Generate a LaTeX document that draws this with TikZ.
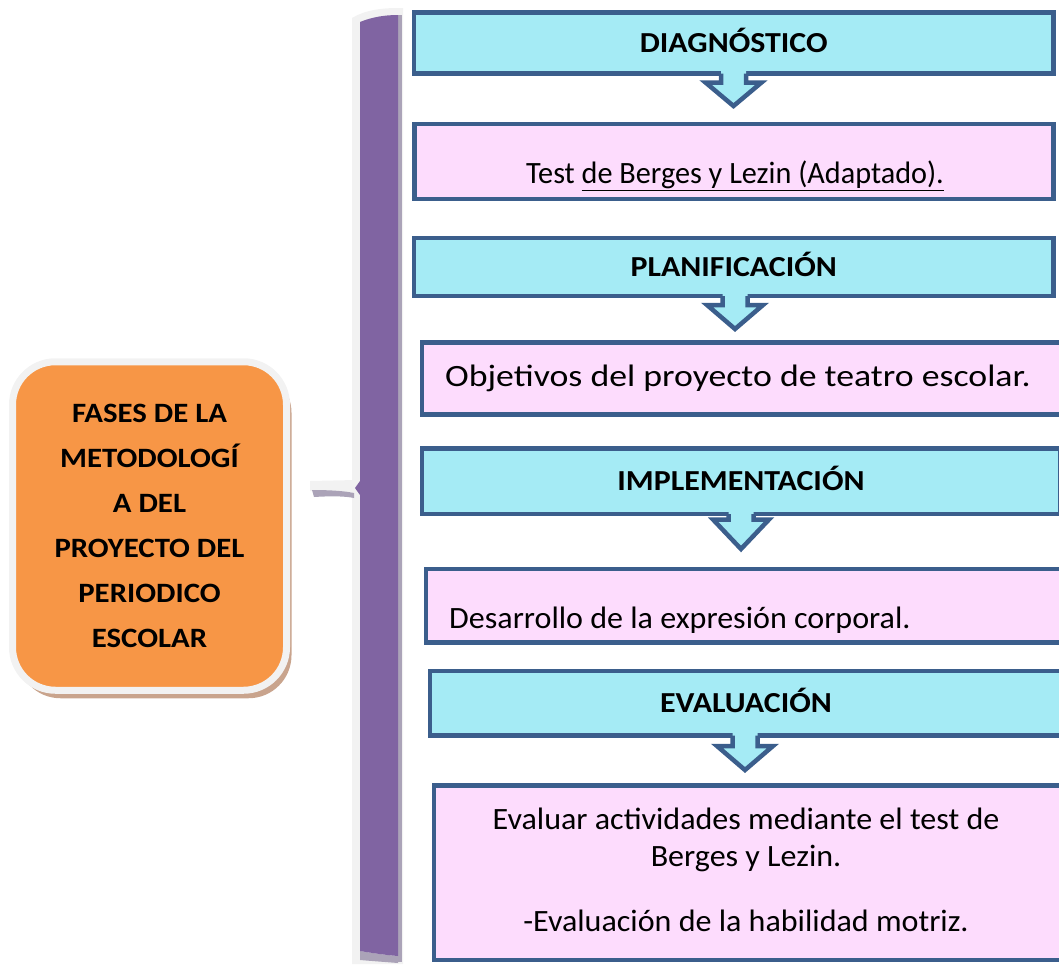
\documentclass[tikz,border=0pt]{standalone}
\usepackage{fontspec}
\setmainfont{Carlito}[FakeStretch=1.034, BoldFeatures={FakeStretch=1.1}]
\usetikzlibrary{calc,shadows}

\definecolor{boxline}{HTML}{3B5E8C}
\definecolor{headfill}{HTML}{A5EBF5}
\definecolor{textfill}{HTML}{FDDCFD}
\definecolor{bracefill}{HTML}{8064A2}
\definecolor{braceshadow}{HTML}{ABA3B8}
\definecolor{halogray}{HTML}{F2F2F2}
\definecolor{fasefill}{HTML}{F79646}
\definecolor{faseshadow}{HTML}{C9A48D}

% block arrow below a phase box: #1 upper box, #2 tip, #3 head height
\newcommand{\phasearrow}[3]{%
  \fill[headfill] ($(#2 |- #1.south)+(-12.5,-3)$) -- ($(#2)+(-12.5,-#3)$) -- ++(-15.5,0) -- (#2)
    -- ++(28,-#3) -- ++(-15.5,0) -- ($(#2 |- #1.south)+(12.5,-3)$) -- cycle;
  \draw[arrowline] ($(#2 |- #1.south)+(-12.5,0)$) -- ($(#2)+(-12.5,-#3)$) -- ++(-15.5,0) -- (#2)
    -- ++(28,-#3) -- ++(-15.5,0) -- ($(#2 |- #1.south)+(12.5,0)$);
}

\begin{document}
\begin{tikzpicture}[x=1pt,y=-1pt,
    headbox/.style={draw=boxline, line width=4.5pt, fill=headfill, anchor=north west,
      inner sep=0pt, outer sep=0pt, text height=19pt, text depth=0pt,
      font=\fontsize{29}{34}\selectfont\bfseries},
    textbox/.style={draw=boxline, line width=4.5pt, fill=textfill, anchor=north west,
      inner sep=0pt, outer sep=0pt},
    bodytext/.style={inner sep=0pt, font=\fontsize{31}{37}\selectfont},
    arrowline/.style={draw=boxline, line width=4.5pt, line join=miter},
    fasebox/.style={draw=halogray, line width=7pt, fill=fasefill, rounded corners=43pt,
      inner sep=0pt, outer sep=0pt, align=center,
      font=\fontsize{28}{45}\selectfont\bfseries\addfontfeatures{FakeStretch=1.21},
      drop shadow={shadow xshift=5pt, shadow yshift=-8pt, fill=faseshadow, opacity=1}}
  ]
  \clip (0,0) rectangle (1059,964);

  % brace
  \fill[halogray] (352,18) .. controls (365,10) and (382,8) .. (398,8) -- (403,8) -- (403,964)
    -- (352,964) -- cycle;
  \fill[halogray] (310,481) -- (356,480) -- (356,492) -- (310,491) -- cycle;
  \fill[braceshadow] (312,490) .. controls (330,490) and (345,491) .. (354,493) -- (354,498)
    .. controls (345,496) and (330,496) .. (314,497) -- cycle;
  \fill[braceshadow] (398,15) rectangle (402,962);
  \fill[braceshadow] (360,951) .. controls (372,953) and (385,955) .. (398,956) -- (398,963)
    .. controls (385,962) and (372,961) .. (360,960) -- cycle;
  \fill[bracefill] (360,22) .. controls (372,17) and (385,15) .. (398,15) -- (398,956)
    .. controls (385,955) and (372,953) .. (360,951) -- (360,495) -- (355,488) -- (360,481) -- cycle;

  % title box
  \node[fasebox, minimum width=274, minimum height=328.5] (fases) at (149.5,526)
    {FASES DE LA\\METODOLOGÍ\\A DEL\\PROYECTO DEL\\PERIODICO\\ESCOLAR};

  % phases
  \node[headbox, minimum width=639.5, minimum height=61] (diag) at (414,12.5) {DIAGNÓSTICO};
  \node[textbox, minimum width=639, minimum height=75] (test) at (414.5,124) {};
  \node[headbox, minimum width=639.5, minimum height=58] (plan) at (414,238) {PLANIFICACIÓN};
  \node[textbox, minimum width=642, minimum height=72] (obj) at (422,342.5) {};
  \node[headbox, minimum width=638, minimum height=65.5] (impl) at (422,448.5) {IMPLEMENTACIÓN};
  \node[textbox, minimum width=640, minimum height=73.5] (des) at (426,569) {};
  \node[headbox, minimum width=632, minimum height=64.5] (eval) at (430,671) {EVALUACIÓN};
  \node[textbox, minimum width=627, minimum height=174.5] (evalbox) at (434,785.5) {};

  \node[bodytext, anchor=base] (testtxt) at (735,183)
    {\addfontfeatures{FakeStretch=0.975}Test \underline{de Berges y Lezin (Adaptado).}};
  \node[bodytext, anchor=base west] (objtxt) at (445,386)
    {\addfontfeatures{FakeStretch=1.154}Objetivos del proyecto de teatro escolar.};
  \node[bodytext, anchor=base west] (destxt) at (449,628) {Desarrollo de la expresión corporal.};
  \node[bodytext, anchor=north, align=center] (evaltxt) at (746,808)
    {Evaluar actividades mediante el test de\\Berges y Lezin.\\[28pt]-Evaluación de la habilidad motriz.};

  % arrows
  \coordinate (tipa) at (733.5,106);
  \coordinate (tipb) at (735,329);
  \coordinate (tipc) at (741,549);
  \coordinate (tipd) at (745,770);
  \phasearrow{diag}{tipa}{23.5}
  \phasearrow{plan}{tipb}{24}
  \phasearrow{impl}{tipc}{29.5}
  \phasearrow{eval}{tipd}{24}
\end{tikzpicture}
\end{document}
